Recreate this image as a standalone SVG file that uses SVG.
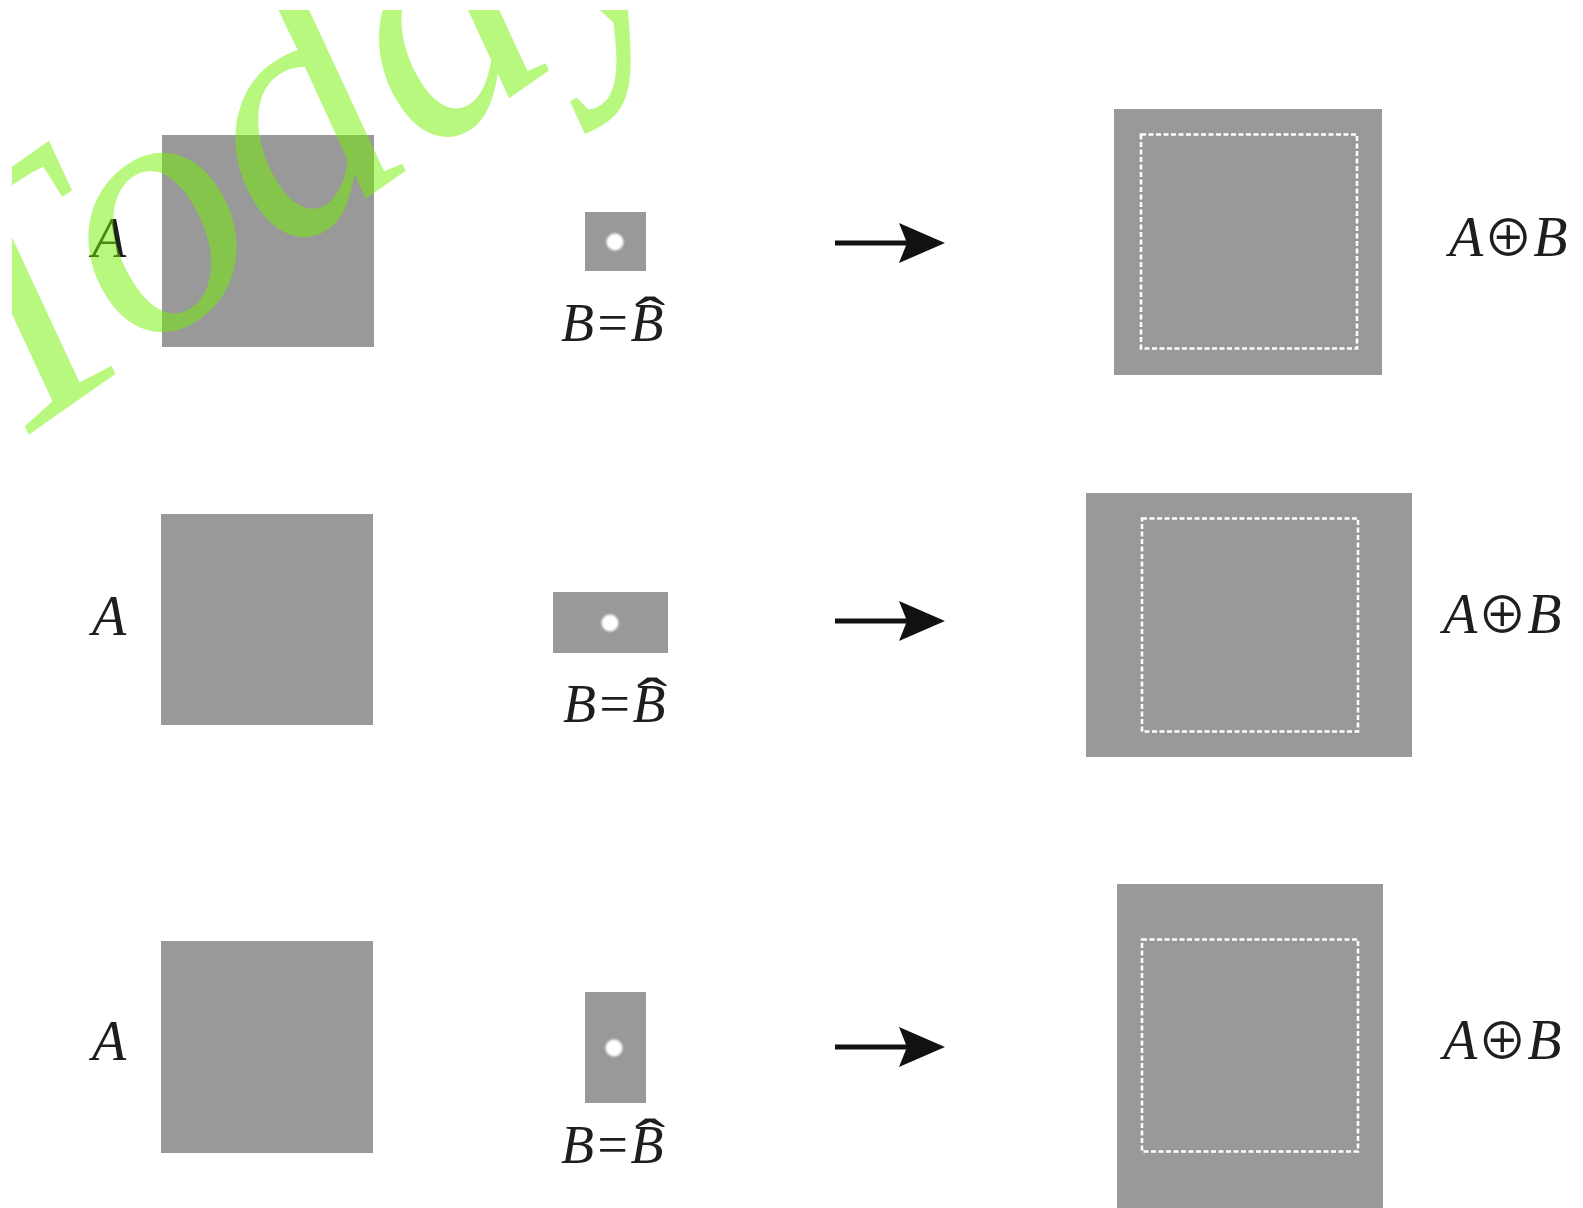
<svg xmlns="http://www.w3.org/2000/svg" width="1583" height="1208" viewBox="0 0 1583 1208">
  <style>
    .blk { fill: #999999; }
    .dot { fill: #ffffff; filter: url(#soft); }
    .rim { fill: none; stroke: #ffffff; stroke-width: 2.6; stroke-dasharray: 5 2.5; }
    .lbl { font-family: "Liberation Serif", "DejaVu Serif", serif; font-style: italic; font-size: 56px; fill: #1e1e1e; }
    .eq  { font-family: "Liberation Serif", "DejaVu Serif", serif; font-style: italic; font-size: 54px; fill: #1e1e1e; }
    .hat { font-family: "Liberation Serif", serif; font-style: normal; font-size: 54px; fill: #1e1e1e; }
    .op  { font-family: "Noto Sans CJK JP", "DejaVu Sans", sans-serif; font-style: normal; font-size: 50px; }
    .arrow-line { stroke: #111111; stroke-width: 5; fill: none; }
    .arrow-head { fill: #111111; }
    .mark { font-family: "Liberation Serif", serif; font-style: italic; font-size: 350px; fill: rgb(115,241,0); fill-opacity: 0.5; }
  </style>
  <defs>
    <filter id="soft" x="-50%" y="-50%" width="200%" height="200%">
      <feGaussianBlur stdDeviation="0.9"/>
    </filter>
    <clipPath id="markClip">
      <rect x="12" y="10" width="1571" height="1198"/>
    </clipPath>
  </defs>

  <rect width="1583" height="1208" fill="#ffffff"/>

  <!-- row 1: square structuring element -->
  <g id="row1-A">
    <text class="lbl" x="92" y="257">A</text>
    <rect class="blk" x="162" y="135" width="212" height="212"/>
  </g>
  <g id="row1-B">
    <rect class="blk" x="585" y="212" width="61" height="59"/>
    <circle class="dot" cx="615" cy="242" r="8.5"/>
    <text class="eq" x="561" y="341">B=B</text>
    <text class="hat" text-anchor="middle" transform="translate(650 335) scale(1.7 1)">ˆ</text>
  </g>
  <g id="row1-result">
    <rect class="blk" x="1114" y="109" width="268" height="266"/>
    <rect class="rim" x="1141" y="134.5" width="216" height="214"/>
    <text class="lbl" x="1449" y="256">A<tspan class="op">⊕</tspan>B</text>
  </g>

  <!-- row 2: wide structuring element -->
  <g id="row2-A">
    <text class="lbl" x="92" y="635">A</text>
    <rect class="blk" x="161" y="514" width="212" height="211"/>
  </g>
  <g id="row2-B">
    <rect class="blk" x="553" y="592" width="115" height="61"/>
    <circle class="dot" cx="610" cy="623" r="8.5"/>
    <text class="eq" x="563" y="722">B=B</text>
    <text class="hat" text-anchor="middle" transform="translate(652 716) scale(1.7 1)">ˆ</text>
  </g>
  <g id="row2-result">
    <rect class="blk" x="1086" y="493" width="326" height="264"/>
    <rect class="rim" x="1142" y="518.5" width="216" height="213"/>
    <text class="lbl" x="1443" y="633">A<tspan class="op">⊕</tspan>B</text>
  </g>

  <!-- row 3: tall structuring element -->
  <g id="row3-A">
    <text class="lbl" x="92" y="1060">A</text>
    <rect class="blk" x="161" y="941" width="212" height="212"/>
  </g>
  <g id="row3-B">
    <rect class="blk" x="585" y="992" width="61" height="111"/>
    <circle class="dot" cx="614" cy="1048" r="8.5"/>
    <text class="eq" x="561" y="1163">B=B</text>
    <text class="hat" text-anchor="middle" transform="translate(650 1157) scale(1.7 1)">ˆ</text>
  </g>
  <g id="row3-result">
    <rect class="blk" x="1117" y="884" width="266" height="324"/>
    <rect class="rim" x="1142" y="939.5" width="216" height="212"/>
    <text class="lbl" x="1443" y="1059">A<tspan class="op">⊕</tspan>B</text>
  </g>

  <!-- arrows -->
  <g id="connectors">
    <line class="arrow-line" x1="835" y1="243" x2="908" y2="243"/>
    <path class="arrow-head" d="M945,243 L899,223 L907,243 L899,263 Z"/>
    <line class="arrow-line" x1="835" y1="621" x2="908" y2="621"/>
    <path class="arrow-head" d="M945,621 L899,601 L907,621 L899,641 Z"/>
    <line class="arrow-line" x1="835" y1="1047" x2="908" y2="1047"/>
    <path class="arrow-head" d="M945,1047 L899,1027 L907,1047 L899,1067 Z"/>
  </g>

  <!-- watermark -->
  <g id="watermark" clip-path="url(#markClip)">
    <text class="mark" transform="translate(4 452) rotate(-35)">Today</text>
  </g>
</svg>
